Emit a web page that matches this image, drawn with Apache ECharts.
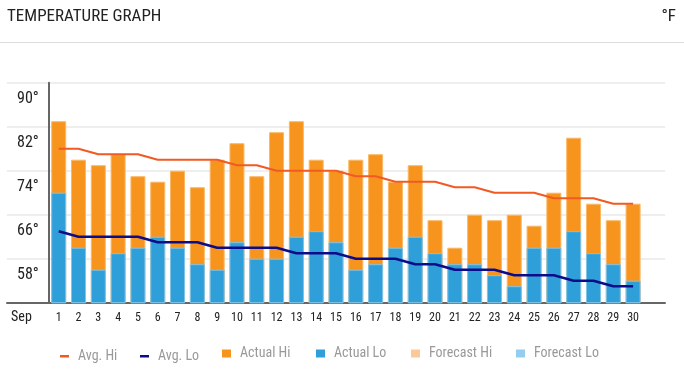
<!DOCTYPE html>
<html><head><meta charset="utf-8">
<script src="https://cdn.jsdelivr.net/npm/echarts@6/dist/echarts.min.js"></script>
<style>html,body{margin:0;padding:0;background:#fff}#c{width:684px;height:379px}</style>
</head><body><div id="c"></div>
<script>
const days = ['1','2','3','4','5','6','7','8','9','10','11','12','13','14','15','16','17','18','19','20','21','22','23','24','25','26','27','28','29','30'];
const actualHi = [86,79,78,80,76,75,77,74,79,82,76,84,86,79,77,79,80,75,78,68,63,69,68,69,67,73,83,71,68,71];
const actualLo = [73,63,59,62,63,65,63,60,59,64,61,61,65,66,64,59,60,63,65,62,60,60,58,56,63,63,66,62,60,57];
const avgHi = [81,81,80,80,80,79,79,79,79,78,78,77,77,77,77,76,76,75,75,75,74,74,73,73,73,72,72,72,71,71];
const avgLo = [66,65,65,65,65,64,64,64,63,63,63,63,62,62,62,61,61,61,60,60,59,59,59,58,58,58,57,57,56,56];
const forecastHi = [];
const forecastLo = [];
const yLabels = [58,66,74,82,90];

const FONT = "'Roboto Condensed','DejaVu Sans Condensed',sans-serif";
const chart = echarts.init(document.getElementById('c'), null, {renderer:'canvas'});

function leg(name, left, h){
  return {data:[{name:name, icon:'rect'}], left:left, top:350.5-h/2, itemWidth:9, itemHeight:h,
    padding:0, selectedMode:false, itemStyle:{borderWidth:0},
    textStyle:{color:'#999', fontSize:14, fontFamily:FONT, padding:[0,0,0,4]}};
}

const option = {
  animation:false,
  textStyle:{fontFamily:FONT},
  title:[
    {text:'TEMPERATURE GRAPH', left:7, top:8, padding:0, textStyle:{fontSize:17, fontWeight:'normal', color:'#222', fontFamily:FONT}},
    {text:'°F', right:8, top:8, padding:0, textStyle:{fontSize:17, fontWeight:'normal', color:'#222', fontFamily:FONT}}
  ],
  graphic:[{type:'line', shape:{x1:0,y1:42.5,x2:684,y2:42.5}, style:{stroke:'#dddddd', lineWidth:1}}],
  legend:[
    leg('Avg. Hi',60,2.5), leg('Avg. Lo',140,2.5), leg('Actual Hi',222,8),
    leg('Actual Lo',316,8), leg('Forecast Hi',411,8), leg('Forecast Lo',516,8)
  ],
  grid:[
    {left:7, right:19, top:82.7, bottom:76.3},
    {left:48.8, right:41, top:82.7, bottom:76.3}
  ],
  xAxis:[
    {gridIndex:0, type:'category', data:days, boundaryGap:true,
      axisLine:{show:true, lineStyle:{color:'#666', width:2}}, axisTick:{show:false}, axisLabel:{show:false}},
    {gridIndex:1, type:'category', data:days, boundaryGap:true,
      axisLine:{show:false}, axisTick:{show:false},
      axisLabel:{color:'#222', fontSize:12, margin:9, fontFamily:FONT},
      name:'Sep', nameLocation:'start', nameGap:17,
      nameTextStyle:{color:'#222', fontSize:14, fontFamily:FONT, verticalAlign:'top', padding:[8,0,0,0]}}
  ],
  yAxis:[
    {gridIndex:0, type:'value', min:0, max:40, interval:8,
      axisLine:{show:false}, axisTick:{show:false}, axisLabel:{show:false},
      splitLine:{show:true, lineStyle:{color:'#eeeeee', width:2}}},
    {gridIndex:1, type:'value', min:53, max:93,
      axisLine:{show:true, lineStyle:{color:'#666', width:2}}, axisTick:{show:false},
      splitLine:{show:false},
      axisLabel:{customValues:yLabels, formatter:v=>v+'°', color:'#222', fontSize:16, margin:10, fontFamily:FONT}}
  ],
  series:[
    {name:'Actual Hi', type:'bar', xAxisIndex:1, yAxisIndex:1, data:actualHi, barWidth:15, barGap:'-100%',
      color:'#f7941e', itemStyle:{color:'#f7941e', borderColor:'#fab866', borderWidth:1}},
    {name:'Actual Lo', type:'bar', xAxisIndex:1, yAxisIndex:1, data:actualLo, barWidth:15, barGap:'-100%',
      color:'#2e9fd8', itemStyle:{color:'#2e9fd8', borderColor:'#7fc4ea', borderWidth:1}},
    {name:'Forecast Hi', type:'bar', xAxisIndex:1, yAxisIndex:1, data:forecastHi, barWidth:15, barGap:'-100%',
      color:'#fdc998', itemStyle:{color:'#fdc998'}},
    {name:'Forecast Lo', type:'bar', xAxisIndex:1, yAxisIndex:1, data:forecastLo, barWidth:15, barGap:'-100%',
      color:'#94cdee', itemStyle:{color:'#94cdee'}},
    {name:'Avg. Hi', type:'line', xAxisIndex:1, yAxisIndex:1, data:avgHi, showSymbol:false, symbol:'none', z:5,
      color:'#f15a22', lineStyle:{color:'#f15a22', width:2}},
    {name:'Avg. Lo', type:'line', xAxisIndex:1, yAxisIndex:1, data:avgLo, showSymbol:false, symbol:'none', z:5,
      color:'#0c0c8a', lineStyle:{color:'#0c0c8a', width:2.5}}
  ]
};
chart.setOption(option);
</script></body></html>
